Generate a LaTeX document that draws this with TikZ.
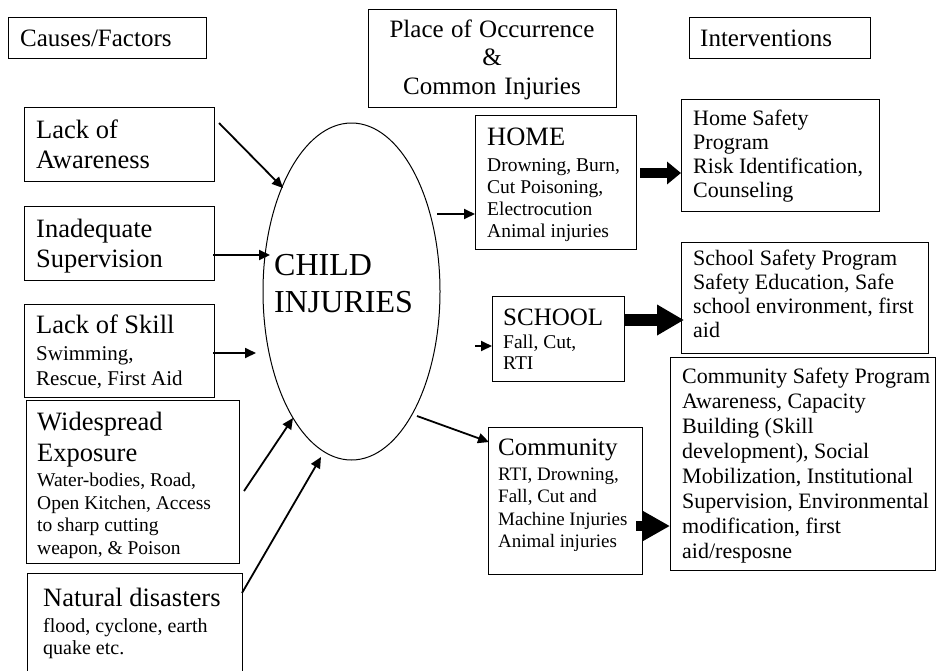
\documentclass[tikz,border=0pt]{standalone}
\usepackage{fontspec}
\setmainfont{Liberation Serif}
\usetikzlibrary{arrows.meta,shapes.geometric}
\newcommand\myHead{\fontsize{25}{28.5}\selectfont}
\newcommand\myBig{\fontsize{26.5}{30}\selectfont}
\begin{document}
\begin{tikzpicture}[x=1pt,y=-1pt,
  box/.style={draw, line width=1pt, inner sep=0pt, anchor=north west},
  txt/.style={anchor=base west, inner sep=0pt, align=left, text width=260pt,
    execute at begin node={\spaceskip=0pt\xspaceskip=0pt\relax}},
  thinarrow/.style={line width=1.8pt, -{Triangle[length=11pt,width=10pt]}},
  fatarrow/.style={line cap=butt}
]
\useasboundingbox (0,0) rectangle (936,670);

% header boxes
\node[box, minimum width=198pt, minimum height=41pt] (causesbox) at (8,17) {};
\node[txt, font=\myHead] (causes) at (20,46) {Causes/Factors};
\node[box, minimum width=248pt, minimum height=98pt] (placebox) at (368,9) {};
\node[anchor=base, inner sep=0pt, align=center, text width=240pt, font=\myHead,
  execute at begin node={\spaceskip=0pt\xspaceskip=0pt\relax}] (place) at (492,37)
  {Place of Occurrence\\ \&\\ Common Injuries};
\node[box, minimum width=181pt, minimum height=41pt] (intbox) at (689,17) {};
\node[txt, font=\myHead] (interv) at (700,46) {Interventions};

% causes
\node[box, minimum width=190pt, minimum height=74pt] (aware) at (24,107) {};
\node[txt, font=\myBig] (awaretxt) at (36,138) {Lack of\\ Awareness};
\node[box, minimum width=190pt, minimum height=74pt] (inadeq) at (24,206) {};
\node[txt, font=\myBig] (inadeqtxt) at (36,237) {Inadequate\\ Supervision};
\node[box, minimum width=190pt, minimum height=93pt] (skill) at (24,304) {};
\node[txt, font=\fontsize{21}{25}\selectfont] (skilltxt) at (36,333) {{\myBig Lack of Skill}\\[2pt] Swimming,\\ Rescue, First Aid};
\node[box, minimum width=213pt, minimum height=163pt] (wide) at (26,400) {};
\node[txt, font=\fontsize{19.5}{22.7}\selectfont] (widetxt) at (37,430) {{\myBig Widespread}\\[7.3pt] {\myBig Exposure}\\[2.3pt] Water-bodies, Road,\\ Open Kitchen, Access\\ to sharp cutting\\ weapon, \& Poison};
\node[box, minimum width=215pt, minimum height=100pt] (natural) at (27,573) {};
\node[txt, font=\fontsize{20}{22}\selectfont] (naturaltxt) at (43,606) {{\myBig Natural disasters}\\[4pt] flood, cyclone, earth\\ quake etc.};

% central ellipse
\node[draw, ellipse, line width=1pt, minimum width=177pt, minimum height=337pt, inner sep=0pt] (inj) at (351.5,291.5) {};
\node[txt, font=\fontsize{32}{37}\selectfont] (injtxt) at (274,275) {CHILD\\ INJURIES};

% places
\node[box, minimum width=161pt, minimum height=134pt] (home) at (475,115) {};
\node[txt, font=\fontsize{19.5}{22}\selectfont] (hometxt) at (487,145) {{\myBig HOME}\\[4pt] Drowning, Burn,\\ Cut Poisoning,\\ Electrocution\\ Animal injuries};
\node[box, minimum width=132pt, minimum height=85pt] (school) at (492,296) {};
\node[txt, font=\fontsize{19.5}{21.5}\selectfont] (schooltxt) at (503,325) {{\fontsize{25}{28}\selectfont SCHOOL}\\[1.5pt] Fall, Cut,\\ RTI};
\node[box, minimum width=154pt, minimum height=147pt] (comm) at (488,427) {};
\node[txt, font=\fontsize{19}{22.5}\selectfont] (commtxt) at (498,455) {{\fontsize{25}{28}\selectfont Community}\\[2.5pt] RTI, Drowning,\\ Fall, Cut and\\ Machine Injuries\\ Animal injuries};

% interventions
\node[box, minimum width=198pt, minimum height=112pt] (homesafe) at (681,99) {};
\node[txt, font=\fontsize{22}{24.3}\selectfont] (homesafetxt) at (693,125) {Home Safety\\ Program\\ Risk Identification,\\ Counseling};
\node[box, minimum width=247pt, minimum height=111pt] (schoolsafe) at (681,242) {};
\node[txt, font=\fontsize{22}{24.3}\selectfont] (schoolsafetxt) at (693,265) {School Safety Program\\ Safety Education, Safe\\ school environment, first\\ aid};
\node[box, minimum width=265pt, minimum height=213pt] (commsafe) at (670,357) {};
\node[txt, font=\fontsize{22}{25}\selectfont] (commsafetxt) at (682,383) {Community Safety Program\\ Awareness, Capacity\\ Building (Skill\\ development), Social\\ Mobilization, Institutional\\ Supervision, Environmental\\ modification, first\\ aid/resposne};

% arrow end points
\coordinate (a1) at (219,123);  \coordinate (a2) at (283,188);
\coordinate (b1) at (213,255);  \coordinate (b2) at (270,255);
\coordinate (c1) at (213,353);  \coordinate (c2) at (256,353);
\coordinate (d1) at (244,491);  \coordinate (d2) at (293,418);
\coordinate (e1) at (242,593);  \coordinate (e2) at (321,457);
\coordinate (f1) at (437,214);
\coordinate (g1) at (475,346);
\coordinate (h1) at (417,416);  \coordinate (h2) at (489,442);
\coordinate (k1) at (640,173);
\coordinate (m1) at (624,320);  \coordinate (m2) at (684,320);
\coordinate (n1) at (636,526);

\draw[thinarrow] (a1) -- (a2);
\draw[thinarrow] (b1) -- (b2);
\draw[thinarrow] (c1) -- (c2);
\draw[thinarrow] (d1) -- (d2);
\draw[thinarrow] (e1) -- (e2);
\draw[thinarrow] (f1) -- (f1 -| home.west);
\draw[thinarrow] (g1) -- (g1 -| school.west);
\draw[thinarrow] (h1) -- (h2);

\draw[fatarrow, line width=10pt, -{Triangle[length=14pt,width=22pt]}] (k1) -- (k1 -| homesafe.west);
\draw[fatarrow, line width=12pt, -{Triangle[length=27pt,width=29pt]}] (m1) -- (m2);
\draw[fatarrow, line width=10pt, -{Triangle[length=27pt,width=28pt]}] (n1) -- (n1 -| commsafe.west);
\end{tikzpicture}
\end{document}
